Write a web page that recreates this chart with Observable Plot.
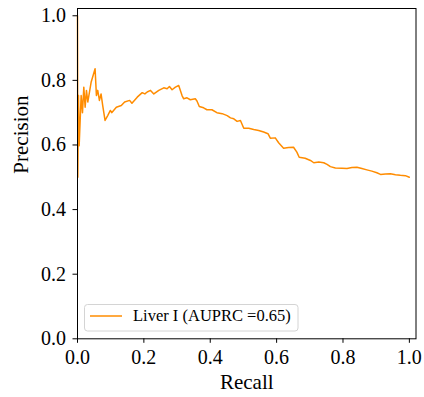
<!DOCTYPE html>
<html>
<head>
<meta charset="utf-8">
<script src="https://cdn.jsdelivr.net/npm/d3@7"></script>
<script src="https://cdn.jsdelivr.net/npm/@observablehq/plot@0.6"></script>
<style>
  html, body { margin: 0; padding: 0; background: #fff; }
  #chart svg { display: block; }
</style>
</head>
<body>
<div id="chart"></div>
<script>
const recall = [0, .001, .003, .005, .011, .015, .019, .023, .027, .031,
  .041, .053, .057, .061, .066, .071, .076, .083, .091, .099,
  .103, .117, .132, .142, .157, .164, .18, .195, .203, .21,
  .22, .23, .245, .26, .27, .277, .285, .295, .305, .31,
  .315, .32, .33, .34, .355, .36, .367, .38, .39, .405,
  .42, .436, .451, .461, .471, .481, .491, .501, .516, .531,
  .546, .561, .574, .581, .596, .606, .621, .636, .651, .661,
  .668, .686, .702, .712, .727, .742, .752, .762, .777, .797,
  .812, .827, .842, .857, .872, .887, .902, .913, .928, .943,
  .958, .973, .988, 1.0];
const precision = [1.0, .5, .753, .598, .753, .70, .779, .717, .769, .733,
  .794, .836, .753, .769, .738, .758, .722, .676, .691, .707,
  .70, .717, .722, .733, .738, .729, .748, .762, .758, .764,
  .769, .758, .769, .777, .774, .781, .771, .779, .784, .769,
  .753, .743, .746, .740, .743, .736, .719, .715, .709, .709,
  .70, .697, .691, .684, .681, .673, .676, .652, .652, .648,
  .645, .640, .635, .621, .622, .607, .590, .592, .593, .578,
  .562, .559, .552, .545, .547, .545, .540, .533, .529, .528,
  .527, .530, .531, .527, .523, .519, .514, .509, .510, .511,
  .508, .506, .505, .500];
const ticks = [0, 0.2, 0.4, 0.6, 0.8, 1.0];
const seriesLabel = "Liver I (AUPRC =0.65)";
const xLabel = "Recall";
const yLabel = "Precision";

const data = recall.map((r, i) => ({r, p: precision[i]}));
const font = "Liberation Serif";
const color = "#ff8c00";

const plot = Plot.plot({
  width: 424,
  height: 397,
  marginLeft: 77,
  marginRight: 8.5,
  marginTop: 8,
  marginBottom: 58.7,
  x: {domain: [0, 1.02]},
  y: {domain: [0, 1.0225]},
  marks: [
    Plot.line(data, {x: "r", y: "p", stroke: color, strokeWidth: 1.5}),
    Plot.frame({stroke: "#000", strokeWidth: 1}),
    Plot.axisX({ticks, tickFormat: d3.format(".1f"), tickSize: 4.5, tickPadding: 6, label: null, fontSize: 20, fontFamily: font, fontVariant: "normal"}),
    Plot.axisY({ticks, tickFormat: d3.format(".1f"), tickSize: 4.5, tickPadding: 7, label: null, fontSize: 20, fontFamily: font, fontVariant: "normal"}),
    Plot.text([xLabel], {frameAnchor: "bottom", dy: 43, text: d => d, fontSize: 21, fontFamily: font, lineAnchor: "middle"}),
    Plot.text([yLabel], {frameAnchor: "left", dx: -56, rotate: -90, text: d => d, fontSize: 21, fontFamily: font, lineAnchor: "middle"})
  ]
});

document.getElementById("chart").appendChild(plot);

// legend (inside plot area, lower left)
const svg = d3.select(plot);
const lg = svg.append("g").attr("text-anchor", "start");
lg.append("rect")
  .attr("x", 84.5).attr("y", 304.5).attr("width", 213.5).attr("height", 26.5)
  .attr("rx", 3).attr("ry", 3)
  .attr("fill", "#fff").attr("fill-opacity", 0.8)
  .attr("stroke", "#d4d4d4").attr("stroke-width", 1);
lg.append("line")
  .attr("x1", 90).attr("x2", 122).attr("y1", 316).attr("y2", 316)
  .attr("stroke", color).attr("stroke-width", 1.5);
lg.append("text")
  .attr("x", 133).attr("y", 317)
  .attr("text-anchor", "start")
  .attr("dominant-baseline", "middle")
  .attr("font-family", font).attr("font-size", 16.5)
  .attr("fill", "#000")
  .text(seriesLabel);
</script>
</body>
</html>
